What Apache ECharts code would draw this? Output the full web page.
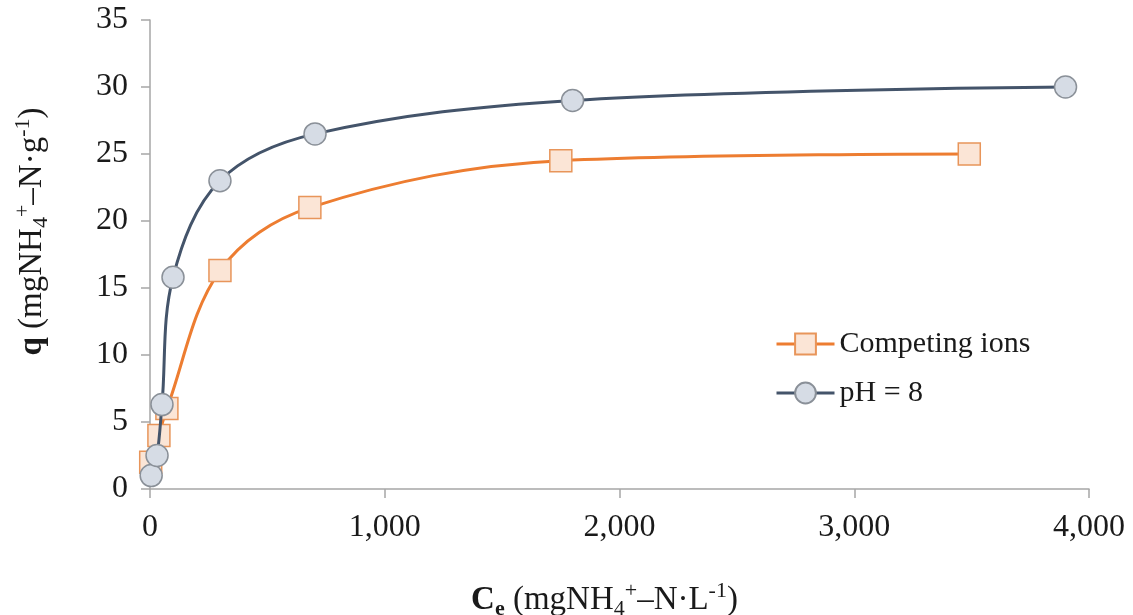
<!DOCTYPE html>
<html>
<head>
<meta charset="utf-8">
<title>Isotherm</title>
<script src="https://cdn.jsdelivr.net/npm/echarts@6/dist/echarts.min.js"></script>
<style>
  html, body { margin: 0; padding: 0; background: #fff; }
  #chart { width: 1133px; height: 615px; }
</style>
</head>
<body>
<div id="chart"></div>
<script>
// Ce (mg/L) and q (mg/g)
const competingCe = [3, 38, 72, 298, 681, 1750, 3490];
const competingQ = [2.0, 4.0, 6.0, 16.3, 21.0, 24.5, 25.0];
const ph8Ce = [5, 30, 51, 98, 298, 703, 1800, 3900];
const ph8Q = [1.0, 2.5, 6.3, 15.8, 23.0, 26.5, 29.0, 30.0];
const seriesNames = ['Competing ions', 'pH = 8'];

const serif = 'Liberation Serif, Times New Roman, serif';
const textColor = '#1a1a1a';
const axisColor = '#a6a6a6';

// rich styles for the axis titles (sub/superscripts)
const richName = {
  n: { fontFamily: serif, fontSize: 33, color: textColor, lineHeight: 40 },
  b: { fontFamily: serif, fontSize: 33, color: textColor, fontWeight: 'bold', lineHeight: 40 },
  bsub: { fontFamily: serif, fontSize: 22, color: textColor, fontWeight: 'bold', lineHeight: 20, verticalAlign: 'bottom' },
  sub: { fontFamily: serif, fontSize: 22, color: textColor, lineHeight: 20, verticalAlign: 'bottom' },
  sup: { fontFamily: serif, fontSize: 22, color: textColor, lineHeight: 20, verticalAlign: 'top' }
};

const chart = echarts.init(document.getElementById('chart'));

const option = {
  animation: false,
  backgroundColor: '#fff',
  grid: { left: 150, right: 44, top: 20, bottom: 126, containLabel: false, outerBoundsMode: 'none' },
  legend: {
    orient: 'vertical',
    left: 770,
    top: 324,
    itemWidth: 58,
    itemHeight: 26,
    itemGap: 19,
    lineStyle: { width: 3 },
    textStyle: { fontFamily: serif, fontSize: 30, color: textColor },
    data: seriesNames
  },
  xAxis: {
    type: 'value',
    min: 0,
    max: 4000,
    interval: 1000,
    name: '{b|C}{bsub|e}{n| (mgNH}{sub|4}{sup|+}{n|–N·L}{sup|-1}{n|)}',
    nameLocation: 'middle',
    nameGap: 91,
    nameTextStyle: { rich: richName, padding: [0, 30, 0, 0] },
    axisLine: { lineStyle: { color: axisColor, width: 1.5 } },
    axisTick: { show: true, length: 9, lineStyle: { color: axisColor, width: 1.5 } },
    axisLabel: {
      margin: 23,
      fontFamily: serif,
      fontSize: 32,
      color: textColor,
      formatter: v => v.toLocaleString('en-US')
    },
    splitLine: { show: false }
  },
  yAxis: {
    type: 'value',
    min: 0,
    max: 35,
    interval: 5,
    name: '{b|q}{n| (mgNH}{sub|4}{sup|+}{n|–N·g}{sup|-1}{n|)}',
    nameLocation: 'middle',
    nameRotate: 90,
    nameGap: 98,
    nameTextStyle: { rich: richName, padding: [0, 0, 0, 46] },
    axisLine: { show: true, lineStyle: { color: axisColor, width: 1.5 } },
    axisTick: { show: true, length: 9, lineStyle: { color: axisColor, width: 1.5 } },
    axisLabel: { margin: 22, fontFamily: serif, fontSize: 32, color: textColor },
    splitLine: { show: false }
  },
  series: [
    {
      name: seriesNames[0],
      type: 'line',
      smooth: 0.35,
      data: competingCe.map((c, i) => [c, competingQ[i]]),
      symbol: 'rect',
      symbolSize: 22,
      lineStyle: { color: '#ED7D31', width: 3 },
      itemStyle: { color: '#FBE5D6', borderColor: '#E8955A', borderWidth: 1.5 },
      z: 2
    },
    {
      name: seriesNames[1],
      type: 'line',
      smooth: 0.35,
      data: ph8Ce.map((c, i) => [c, ph8Q[i]]),
      symbol: 'circle',
      symbolSize: 22,
      lineStyle: { color: '#44546A', width: 3 },
      itemStyle: { color: '#D6DCE5', borderColor: '#8A9098', borderWidth: 1.5 },
      z: 3
    }
  ]
};

chart.setOption(option);
</script>
</body>
</html>
